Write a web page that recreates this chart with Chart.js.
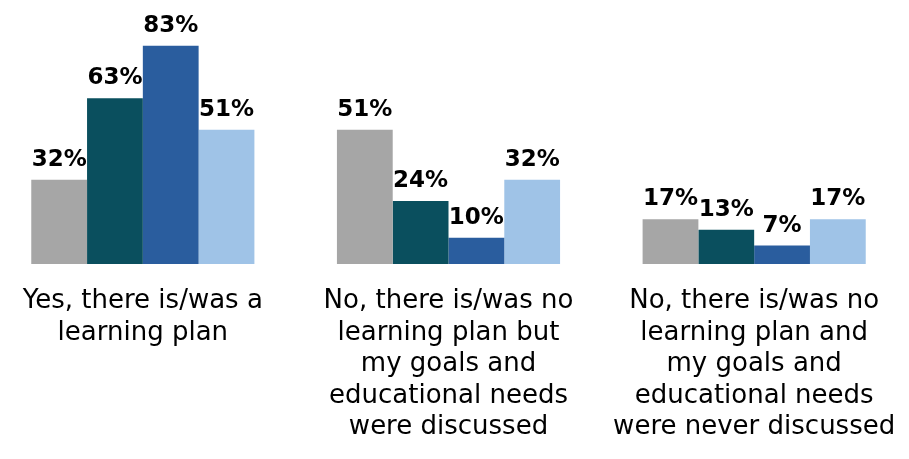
<!DOCTYPE html>
<html>
<head>
<meta charset="utf-8">
<script src="https://cdn.jsdelivr.net/npm/chart.js@4/dist/chart.umd.min.js"></script>
<style>
  html, body { margin: 0; padding: 0; background: #ffffff; overflow: hidden; }
  #wrap { position: absolute; left: -10px; top: 0; width: 917px; height: 459px; }
</style>
</head>
<body>
<div id="wrap"><canvas id="chart"></canvas></div>
<script>
// Learning plan status, share of respondents per group (%)
const categories = [
  ["Yes, there is/was a", "learning plan"],
  ["No, there is/was no", "learning plan but", "my goals and", "educational needs", "were discussed"],
  ["No, there is/was no", "learning plan and", "my goals and", "educational needs", "were never discussed"]
];
const seriesA = [32, 51, 17];
const seriesB = [63, 24, 13];
const seriesC = [83, 10, 7];
const seriesD = [51, 32, 17];
const seriesColors = ["#A6A6A6", "#0A4F5E", "#2A5D9E", "#9FC3E7"];

// Draws "NN%" above every bar, positioned from the bar elements themselves
const valueLabels = {
  id: "valueLabels",
  afterDatasetsDraw(chart) {
    const ctx = chart.ctx;
    ctx.save();
    ctx.font = "bold 23px 'DejaVu Sans', sans-serif";
    ctx.fillStyle = "#000000";
    ctx.textAlign = "center";
    ctx.textBaseline = "alphabetic";
    chart.data.datasets.forEach((ds, i) => {
      const meta = chart.getDatasetMeta(i);
      meta.data.forEach((bar, j) => {
        ctx.fillText(ds.data[j] + "%", bar.x, bar.y - 14);
      });
    });
    ctx.restore();
  }
};

new Chart(document.getElementById("chart"), {
  type: "bar",
  data: {
    labels: categories,
    datasets: [seriesA, seriesB, seriesC, seriesD].map((values, i) => ({
      data: values,
      backgroundColor: seriesColors[i],
      borderWidth: 0,
      categoryPercentage: 0.73,
      barPercentage: 1.0
    }))
  },
  options: {
    responsive: true,
    maintainAspectRatio: false,
    animation: false,
    layout: { padding: { top: 1, left: 0, right: 0, bottom: 0 } },
    plugins: { legend: { display: false }, tooltip: { enabled: false } },
    scales: {
      x: {
        grid: { display: false, drawTicks: false },
        border: { display: false },
        ticks: {
          color: "#000000",
          padding: 22,
          maxRotation: 0,
          autoSkip: false,
          font: { family: "'DejaVu Sans', sans-serif", size: 26, lineHeight: 1.21 }
        },
        afterFit(scale) {
          // keep equal category widths across the full canvas
          scale.height = 195;
          scale.paddingLeft = 0;
          scale.paddingRight = 0;
        }
      },
      y: {
        display: false,
        min: 0,
        max: 100
      }
    }
  },
  plugins: [valueLabels]
});
</script>
</body>
</html>
